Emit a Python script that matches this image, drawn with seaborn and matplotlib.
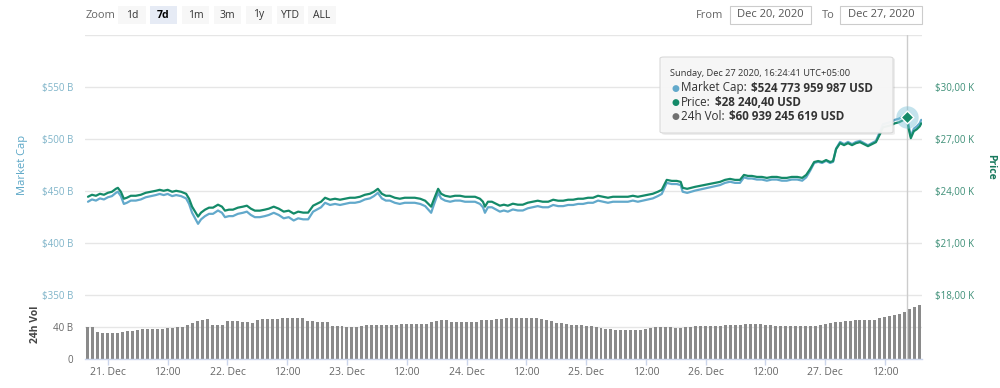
import matplotlib
matplotlib.use("Agg")
import matplotlib.pyplot as plt
import seaborn as sns
from matplotlib.patches import Rectangle, FancyBboxPatch
from matplotlib.text import Annotation

# ------------------------------------------------------------------ data
# hours since 20 Dec 2020 00:00 (UTC+05:00)
price_hours = [
    20.0, 20.8, 21.6, 22.4, 23.2, 24.0, 24.8, 25.6, 26.0, 26.6,
    27.2, 27.8, 28.6, 29.6, 30.6, 31.6, 32.6, 33.6, 34.4, 35.2,
    36.0, 36.9, 37.7, 38.7, 39.7, 40.3, 40.9, 41.5, 42.1, 42.7,
    43.5, 44.3, 45.1, 46.1, 46.9, 47.5, 48.3, 49.1, 50.1, 51.1,
    51.9, 52.7, 53.5, 54.5, 55.5, 56.3, 57.3, 58.3, 59.3, 60.3,
    61.3, 62.2, 63.2, 64.2, 65.2, 66.0, 66.8, 67.6, 68.6, 69.6,
    70.6, 71.6, 72.6, 73.6, 74.6, 75.6, 76.6, 77.4, 78.2, 79.0,
    79.8, 80.6, 81.6, 82.6, 83.6, 84.6, 85.6, 86.7, 87.7, 88.3,
    88.9, 89.5, 90.3, 90.9, 91.7, 92.7, 93.7, 94.7, 95.7, 96.7,
    97.7, 98.7, 99.3, 99.7, 100.3, 101.1, 101.9, 102.7, 103.5, 104.3,
    105.3, 106.3, 107.3, 108.3, 109.3, 110.3, 111.3, 112.4, 113.4, 114.4,
    115.4, 116.4, 117.4, 118.4, 119.4, 120.4, 121.4, 122.4, 123.4, 124.4,
    125.4, 126.4, 127.4, 128.4, 129.4, 130.4, 131.4, 132.4, 133.4, 134.4,
    135.2, 135.8, 136.2, 137.2, 138.2, 139.0, 139.4, 140.3, 141.1, 141.9,
    142.9, 143.9, 144.9, 145.9, 146.9, 147.9, 148.9, 149.9, 150.9, 151.7,
    152.5, 153.3, 154.3, 155.3, 156.3, 157.3, 158.3, 159.3, 160.3, 161.3,
    162.4, 163.4, 164.2, 165.0, 165.8, 166.6, 167.4, 168.2, 169.0, 169.6,
    170.2, 171.0, 171.8, 172.6, 173.4, 174.2, 175.0, 175.8, 176.6, 177.4,
    178.2, 179.0, 179.6, 180.4, 181.2, 182.0, 182.8, 183.6, 184.4, 184.8,
    185.2, 185.8, 186.4, 187.0, 187.3,
]
price_usd = [
    23657, 23771, 23714, 23829, 23771, 23886, 23943, 24114, 24171, 23943,
    23543, 23600, 23714, 23714, 23771, 23886, 23943, 24000, 24057, 24000,
    24057, 23943, 24000, 23943, 23829, 23543, 23086, 22800, 22514, 22743,
    22914, 23029, 23029, 23200, 23086, 22857, 22914, 22914, 23029, 23086,
    23143, 22971, 22857, 22857, 22914, 22971, 23086, 22971, 22800, 22857,
    22686, 22800, 22743, 22743, 23143, 23257, 23371, 23600, 23486, 23543,
    23486, 23543, 23600, 23600, 23657, 23771, 23829, 23943, 24114, 23829,
    23714, 23714, 23600, 23543, 23600, 23600, 23600, 23543, 23429, 23257,
    23086, 23543, 24114, 23829, 23714, 23657, 23714, 23714, 23657, 23657,
    23657, 23543, 23371, 23086, 23371, 23371, 23257, 23143, 23200, 23143,
    23257, 23200, 23200, 23314, 23371, 23429, 23371, 23371, 23486, 23429,
    23429, 23486, 23486, 23543, 23543, 23600, 23600, 23714, 23657, 23600,
    23657, 23657, 23657, 23657, 23714, 23657, 23714, 23771, 23829, 23943,
    24057, 24400, 24629, 24571, 24571, 24514, 24171, 24114, 24171, 24229,
    24286, 24343, 24400, 24457, 24514, 24629, 24686, 24629, 24629, 24914,
    24857, 24857, 24800, 24800, 24743, 24800, 24800, 24743, 24743, 24800,
    24800, 24743, 24914, 25257, 25657, 25714, 25657, 25771, 25657, 25714,
    26400, 26743, 26629, 26743, 26629, 26743, 26800, 26686, 26571, 26686,
    26800, 27257, 27657, 27714, 27771, 27886, 27943, 28057, 28240, 27543,
    27029, 27429, 27543, 27714, 27886,
]
mcap_bn = [
    439.5, 441.7, 440.6, 442.7, 441.7, 443.8, 444.9, 448.0, 449.1, 444.9,
    437.4, 438.5, 440.6, 440.6, 441.7, 443.8, 444.9, 445.9, 447.0, 445.9,
    447.0, 444.9, 445.9, 444.9, 442.7, 437.4, 428.9, 423.6, 418.3, 422.6,
    425.7, 427.9, 427.9, 431.1, 428.9, 424.7, 425.7, 425.7, 427.9, 428.9,
    430.0, 426.8, 424.7, 424.7, 425.7, 426.8, 428.9, 426.8, 423.6, 424.7,
    421.5, 423.6, 422.6, 422.6, 430.0, 432.1, 434.2, 438.5, 436.4, 437.4,
    436.4, 437.4, 438.5, 438.5, 439.5, 441.7, 442.7, 444.9, 448.0, 442.7,
    440.6, 440.6, 438.5, 437.4, 438.5, 438.5, 438.5, 437.4, 435.3, 432.1,
    428.9, 437.4, 448.0, 442.7, 440.6, 439.5, 440.6, 440.6, 439.5, 439.5,
    439.5, 437.4, 434.2, 428.9, 434.2, 434.2, 432.1, 430.0, 431.1, 430.0,
    432.1, 431.1, 431.1, 433.2, 434.2, 435.3, 434.2, 434.2, 436.4, 435.3,
    435.3, 436.4, 436.4, 437.4, 437.4, 438.5, 438.5, 440.6, 439.5, 438.5,
    439.5, 439.5, 439.5, 439.5, 440.6, 439.5, 440.6, 441.7, 442.7, 444.9,
    447.0, 453.4, 457.6, 456.5, 456.5, 455.5, 449.1, 448.0, 449.1, 450.2,
    451.2, 452.3, 453.4, 454.4, 455.5, 457.6, 458.7, 457.6, 457.6, 462.9,
    461.8, 461.8, 460.8, 460.8, 459.7, 460.8, 460.8, 459.7, 459.7, 460.8,
    460.8, 459.7, 462.9, 469.3, 476.7, 477.8, 476.7, 478.8, 476.7, 477.8,
    490.5, 496.9, 494.8, 496.9, 494.8, 496.9, 497.9, 495.8, 493.7, 495.8,
    497.9, 506.4, 513.9, 514.9, 516.0, 518.1, 519.2, 521.3, 524.8, 511.8,
    502.2, 509.6, 511.8, 514.9, 518.1,
]
vol_hours = list(range(20, 188))
vol_bn = [
    40, 40,
    33.5, 33, 32.5, 32.5, 33, 33.5,
    34.5, 35.5, 36.5, 37, 37, 37,
    37.5, 38, 38.5, 39, 39.5, 40,
    43, 45, 47, 49, 50, 43,
    42.5, 42.5, 47.5, 47.5, 47, 46.5,
    46, 45.5, 49, 50, 50, 50,
    50, 51, 51, 51, 51, 51,
    47.5, 47, 46, 46.5, 46.5, 41,
    41.5, 41, 40.5, 40, 40.5, 41,
    42, 42.5, 43, 43, 43, 43,
    43, 44, 44, 44, 44, 44,
    44, 46.5, 48, 48.5, 48.5, 46,
    46, 46, 46.5, 46, 46.5, 49,
    49, 49, 49.5, 50, 51, 51,
    51, 51, 51, 51.5, 51.5, 50,
    48.5, 47, 45.5, 45, 44, 42.5,
    42, 42, 41.5, 41, 40, 39,
    38, 37.5, 36, 36, 36, 36,
    36, 36.5, 37, 38.5, 39.5, 40,
    40, 40.5, 39, 38.5, 39.5, 40,
    41, 41, 41, 41, 41, 41.5,
    42, 42, 42.5, 43, 44, 44,
    44, 44, 43, 42, 41.5, 41.5,
    41.5, 41, 41, 41, 41, 41,
    41.5, 42, 44, 45, 46, 46,
    47, 48, 48.5, 48.5, 48.5, 48.5,
    48.5, 51, 52.5, 53.5, 55, 56,
    59, 62, 64.5, 67,
]

hover_hour = 184.4
hover_price = 28240.40
hover_mcap = 524.774
tooltip_header = "Sunday, Dec 27 2020, 16:24:41 UTC+05:00"
tooltip_labels = ["Market Cap:", "Price:", "24h Vol:"]
tooltip_values = ["$524 773 959 987 USD", "$28 240,40 USD", "$60 939 245 619 USD"]

mcap_ticks = [350, 400, 450, 500, 550, 600]
mcap_tick_labels = ["$350 B", "$400 B", "$450 B", "$500 B", "$550 B", ""]
price_ticks = [18000, 21000, 24000, 27000, 30000]
price_tick_labels = ["$18,00 K", "$21,00 K", "$24,00 K", "$27,00 K", "$30,00 K"]
vol_ticks = [0, 40, 80]
vol_tick_labels = ["0", "40 B", ""]
x_ticks = [24, 36, 48, 60, 72, 84, 96, 108, 120, 132, 144, 156, 168, 180]
x_tick_labels = ["21. Dec", "12:00", "22. Dec", "12:00", "23. Dec", "12:00",
                 "24. Dec", "12:00", "25. Dec", "12:00", "26. Dec", "12:00",
                 "27. Dec", "12:00"]
zoom_buttons = ["1d", "7d", "1m", "3m", "1y", "YTD", "ALL"]
selected_button = "7d"
range_from = "Dec 20, 2020"
range_to = "Dec 27, 2020"

# ------------------------------------------------------------------ style
sns.set_theme(style="white")
plt.rcParams["font.family"] = ["Open Sans", "DejaVu Sans"]

BLUE = "#62a9cb"
GREEN = "#148a69"
GREY_BAR = "#8a8a8a"
GRID = "#e6e6e6"

W, H = 1000, 388
fig = plt.figure(figsize=(W / 100, H / 100), dpi=100)
fig.patch.set_facecolor("white")


def fx(x):
    return x / W


def fy(y):
    return 1 - y / H


# main panel: pixel y 34.5 .. 295 ; volume panel: 295 .. 359 ; x 85 .. 922
ax = fig.add_axes([fx(85), fy(295), (922 - 85) / W, (295 - 34.5) / H])
axv = fig.add_axes([fx(85), fy(359), (922 - 85) / W, (359 - 295) / H])
ax2 = ax.twinx()

xlim = (19.4, 187.45)

# ---- market cap & price lines
sns.lineplot(x=price_hours, y=mcap_bn, ax=ax, color=BLUE, linewidth=1.6,
             estimator=None, sort=False)
sns.lineplot(x=price_hours, y=price_usd, ax=ax2, color=GREEN, linewidth=1.6,
             estimator=None, sort=False)

ax.set_xlim(*xlim)
ax2.set_xlim(*xlim)
ax.set_ylim(350, 600)
ax2.set_ylim(18000, 33000)

ax.set_yticks(mcap_ticks, mcap_tick_labels)
ax2.set_yticks(price_ticks, price_tick_labels)
ax.set_xticks([])
ax2.set_xticks([])
ax.grid(axis="y", color=GRID, linewidth=1)
ax.grid(axis="x", visible=False)
ax2.grid(False)
ax.set_axisbelow(True)
for a in (ax, ax2):
    for s in a.spines.values():
        s.set_visible(False)
    a.set_xlabel("")
    a.set_ylabel("")
    a.patch.set_alpha(0)
ax.tick_params(axis="y", length=0, pad=8.6, labelsize=7, labelcolor="#7fb4c9")
ax2.tick_params(axis="y", length=0, pad=9.4, labelsize=7, labelcolor="#3d8f77")

# ---- crosshair and hover markers
ax.axvline(hover_hour, color="#cccccc", linewidth=1, zorder=1)
axv.axvline(hover_hour, color="#cccccc", linewidth=1, zorder=3)
ax2.scatter([hover_hour], [hover_price], s=260, color="#7cc3d8", alpha=0.45,
            linewidths=0, zorder=5)
ax2.scatter([hover_hour], [hover_price], marker="D", s=42, color=GREEN,
            edgecolors="white", linewidths=1, zorder=6)

# ---- volume bars
sns.barplot(x=vol_hours, y=vol_bn, ax=axv, native_scale=True, color=GREY_BAR,
            saturation=1, width=0.6, errorbar=None, linewidth=0)
axv.set_xlim(*xlim)
axv.set_ylim(0, 80)
axv.set_yticks(vol_ticks, vol_tick_labels)
axv.set_xticks(x_ticks, x_tick_labels)
axv.grid(axis="y", color=GRID, linewidth=1)
axv.grid(axis="x", visible=False)
axv.set_axisbelow(True)
for k, s in axv.spines.items():
    s.set_visible(k == "bottom")
axv.spines["bottom"].set_color("#ccd6eb")
axv.spines["bottom"].set_linewidth(1)
axv.set_xlabel("")
axv.set_ylabel("")
axv.patch.set_alpha(0)
axv.tick_params(axis="y", length=0, pad=8.6, labelsize=7, labelcolor="#666666")
axv.tick_params(axis="x", length=4, width=1, color="#ccd6eb", pad=2,
                labelsize=7.5, labelcolor="#666666", bottom=True)

# ---- axis titles
fig.text(fx(23), fy(165), "Market Cap", rotation=90, ha="center", va="center",
         fontsize=8, color="#5aa6c6")
fig.text(fx(991), fy(167), "Price", rotation=270, ha="center", va="center",
         fontsize=7.5, color="#18795d", fontweight="bold")
fig.text(fx(36), fy(324), "24h Vol", rotation=90, ha="center", va="center",
         fontsize=7.5, color="#444444", fontweight="bold")

# ---- range selector (top bar)
fig.text(fx(86), fy(15), "Zoom", ha="left", va="center", fontsize=8,
         color="#666666")
btn_x = [(118, 146), (150, 177), (182, 209), (214, 241), (246, 272),
         (277, 304), (308, 336)]
for (x0, x1), lab in zip(btn_x, zoom_buttons):
    sel = lab == selected_button
    fig.add_artist(Rectangle((fx(x0), fy(24)), (x1 - x0) / W, 18 / H,
                             transform=fig.transFigure,
                             facecolor="#e6ebf5" if sel else "#f7f7f7",
                             edgecolor="none"))
    fig.text(fx((x0 + x1) / 2), fy(15), lab, ha="center", va="center",
             fontsize=7.5, color="#000000" if sel else "#333333",
             fontweight="bold" if sel else "normal")

fig.text(fx(710), fy(15), "From", ha="center", va="center", fontsize=8,
         color="#666666")
fig.text(fx(828), fy(15), "To", ha="center", va="center", fontsize=8,
         color="#666666")
for (x0, x1), lab in zip([(730, 811), (840, 922)], [range_from, range_to]):
    fig.add_artist(Rectangle((fx(x0), fy(24)), (x1 - x0) / W, 18 / H,
                             transform=fig.transFigure, facecolor="white",
                             edgecolor="#cccccc", linewidth=0.8))
    fig.text(fx((x0 + x1) / 2), fy(15), lab, ha="center", va="center",
             fontsize=8, color="#555555")

# ---- tooltip
fig.add_artist(FancyBboxPatch((fx(662), fy(135)), (893 - 660) / W, 77 / H,
                              boxstyle="round,pad=0,rounding_size=0.004",
                              transform=fig.transFigure, facecolor="#000000",
                              alpha=0.07, edgecolor="none", zorder=4))
fig.add_artist(FancyBboxPatch((fx(660), fy(133)), (893 - 660) / W, 76 / H,
                              boxstyle="round,pad=0,rounding_size=0.004",
                              transform=fig.transFigure, facecolor="#f7f7f7",
                              alpha=0.96, edgecolor="#d8d8d8", linewidth=0.8,
                              zorder=5))
fig.text(fx(670), fy(74), tooltip_header, ha="left", va="center",
         fontsize=6.7, color="#333333", zorder=6)
dot_colors = [BLUE, GREEN, "#707070"]
for i, (lab, val, dc) in enumerate(zip(tooltip_labels, tooltip_values, dot_colors)):
    yy = 88 + 14 * i
    fig.text(fx(671), fy(yy), "\u25CF", ha="left", va="center", fontsize=6.5,
             color=dc, zorder=6, family=["DejaVu Sans"])
    t = fig.text(fx(681), fy(yy), lab, ha="left", va="center", fontsize=8.4,
                 color="#333333", zorder=6)
    ann = Annotation(val, xy=(1, 0.5), xycoords=t, xytext=(3, 0),
                     textcoords="offset points", ha="left", va="center",
                     fontsize=8.4, fontweight="bold", color="#333333")
    ann.set_zorder(6)
    fig.add_artist(ann)

fig.savefig("out.png", dpi=100, facecolor="white")
